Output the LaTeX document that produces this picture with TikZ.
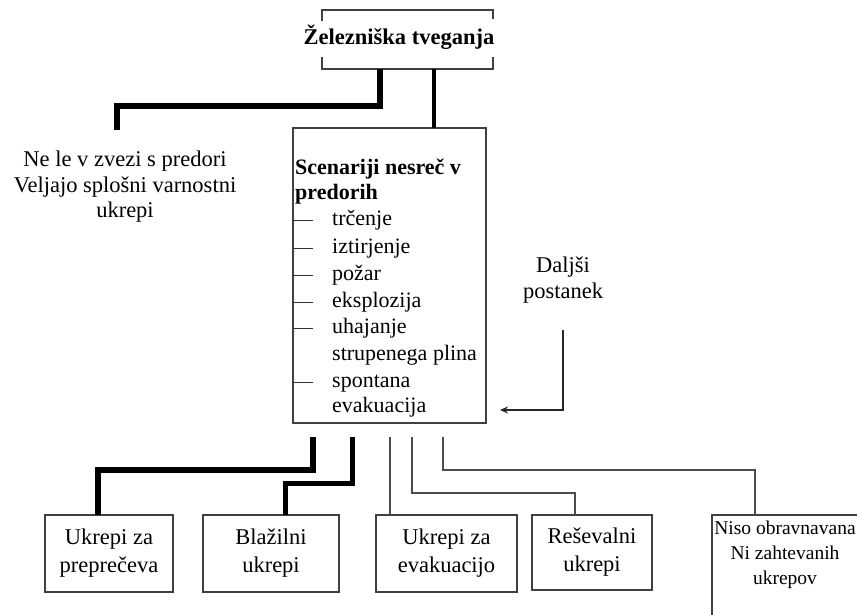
\documentclass[tikz,border=0pt]{standalone}
\usepackage{fontspec}
\setmainfont{Liberation Serif}
\usetikzlibrary{arrows.meta}
\tikzset{
  frame/.style={draw=black!75, line width=1.6pt, outer sep=0pt, inner sep=0pt},
  bigtxt/.style={font=\fontsize{22.5}{25.5}\selectfont, align=center, inner sep=0pt},
  boxtxt/.style={frame, font=\fontsize{22.5}{28}\selectfont, align=center, minimum height=77pt},
  itemtxt/.style={font=\fontsize{22}{26}\selectfont, anchor=west, inner sep=0pt, text height=15pt, text depth=5pt},
  heavy/.style={line width=#1, black},
  heavy/.default=6pt,
  thinline/.style={line width=1.7pt, black!70},
  dashline/.style={line width=1pt, black!80},
  backarrow/.style={line width=2.2pt, black!85, -{Stealth[length=8pt,width=7pt]}}
}
\begin{document}
\begin{tikzpicture}[x=1pt, y=-1pt]
  \useasboundingbox (0,0) rectangle (857,615);
  % top box, only the corners of its sides are drawn
  \coordinate (rnw) at (322,10);
  \coordinate (rse) at (493,69);
  \node[bigtxt, font=\fontsize{22.5}{26}\selectfont\bfseries] (risk) at (399,37) {Železniška tveganja};
  \draw[frame] (rnw) ++(0,11) |- (rse |- rnw) -- ++(0,9);
  \draw[frame] (rnw |- rse) ++(0,-12) |- (rse) -- ++(0,-12);

  \node[bigtxt] (neles) at (125,187) {Ne le v zvezi s predori\\Veljajo splošni varnostni\\ukrepi};

  % scenarios
  \node[frame, minimum width=193pt, minimum height=295pt, anchor=north west] (scen) at (293,128) {};
  \node[itemtxt, font=\fontsize{22}{26}\selectfont\bfseries] (stitle1) at (295,170) {Scenariji nesreč v};
  \node[itemtxt, font=\fontsize{22}{26}\selectfont\bfseries] (stitle2) at (295,195) {predorih};
  \foreach \y/\t in {220/trčenje, 248/iztirjenje, 275/požar, 302/eksplozija, 328/uhajanje, 355/strupenega plina, 382/spontana, 407/evakuacija}
    \node[itemtxt] (item\y) at (332,\y) {\t};
  \foreach \y in {220,248,275,302,328,382}
    \draw[dashline] (item\y.west -| scen.west) -- ++(20,0);

  \node[bigtxt] (dalj) at (563,280) {Daljši\\postanek};

  % measures
  \node[boxtxt, minimum width=128pt] (prep) at (109,553.5) {Ukrepi za\\preprečeva};
  \node[boxtxt, minimum width=136pt] (blaz) at (271,553.5) {Blažilni\\ukrepi};
  \node[boxtxt, minimum width=141pt] (evak) at (446.5,553.5) {Ukrepi za\\evakuacijo};
  \node[boxtxt, minimum width=120pt, minimum height=75pt] (resev) at (592,552.5) {Reševalni\\ukrepi};
  \node[frame, minimum width=200pt, minimum height=150pt, anchor=north west] (nisobox) at (712,515) {};
  \node[bigtxt, font=\fontsize{19.5}{25}\selectfont] (niso) at (785,555) {Niso obravnavana\\Ni zahtevanih\\ukrepov};

  % connectors
  \draw[heavy] (rnw |- rse) ++(58,0) -- ++(0,37) -| ([xshift=-8pt,yshift=21pt]neles.north);
  \draw[heavy=4pt] (rnw |- rse) ++(112,0) -- ([xshift=141pt]scen.north west);
  \draw[backarrow] ([yshift=-27pt]dalj.south) |- ([xshift=14pt,yshift=13pt]scen.south east);
  \draw[heavy] (scen.south west) ++(20,14) -- ++(0,33) -| ([xshift=-11pt]prep.north);
  \draw[heavy=5pt] (scen.south west) ++(59,14) -- ++(0,46) -| ([xshift=14pt]blaz.north);
  \draw[thinline] (scen.south west) ++(97,14) -- ([xshift=14pt]evak.north west);
  \draw[thinline] (scen.south west) ++(119,14) -- ++(0,56) -| ([xshift=-17pt]resev.north);
  \draw[thinline] (scen.south west) ++(150,14) -- ++(0,33) -| ([xshift=43pt]nisobox.north west);
\end{tikzpicture}
\end{document}
